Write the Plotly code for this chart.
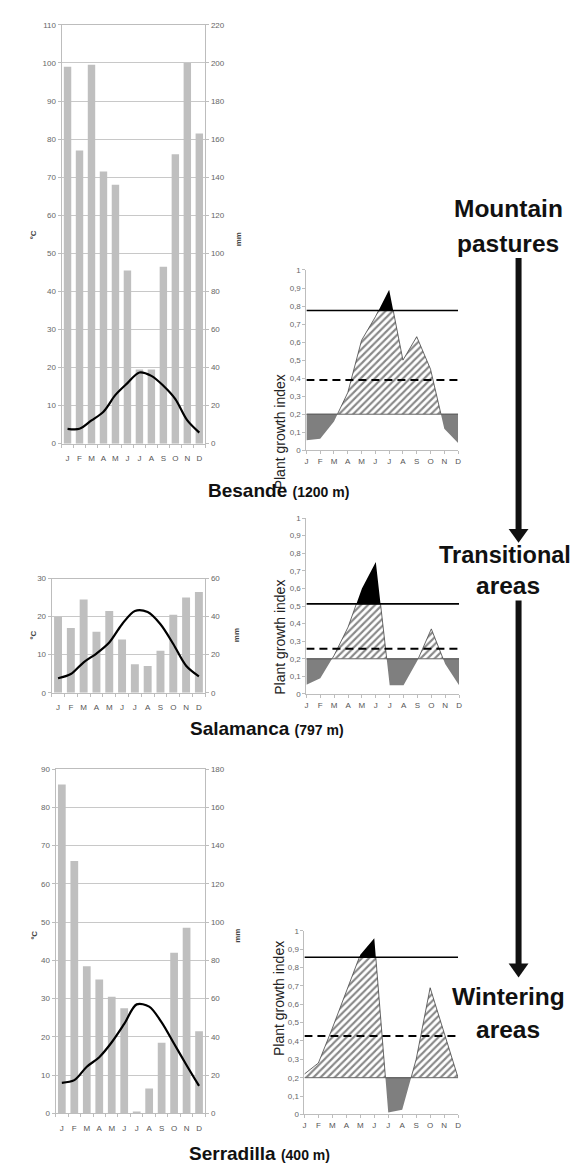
import plotly.graph_objects as go

W, H = 578, 1164
FONT = "Liberation Sans, Arial, sans-serif"

months = ["J", "F", "M", "A", "M", "J", "J", "A", "S", "O", "N", "D"]

# Climate data (temperature in °C, precipitation in mm)
besande_temp = [3.9, 3.9, 6.1, 8.4, 12.8, 15.9, 18.7, 17.8, 15.2, 11.7, 6.1, 2.9]
besande_prec = [198, 154, 199, 143, 136, 91, 39, 39, 93, 152, 200, 163]
salamanca_temp = [3.8, 4.9, 8.0, 10.3, 13.2, 18.0, 21.5, 21.2, 18.0, 12.8, 7.1, 4.3]
salamanca_prec = [40, 34, 49, 32, 43, 28, 15, 14, 22, 41, 50, 53]
serradilla_temp = [8.0, 8.7, 12.2, 14.7, 18.6, 23.4, 28.5, 27.9, 23.8, 18.2, 12.6, 7.2]
serradilla_prec = [172, 132, 77, 70, 61, 55, 1, 13, 37, 84, 97, 43]

# Plant growth index
besande_pgi = [0.055, 0.064, 0.16, 0.32, 0.61, 0.74, 0.89, 0.50, 0.63, 0.45, 0.12, 0.04]
salamanca_pgi = [0.053, 0.09, 0.22, 0.38, 0.60, 0.75, 0.05, 0.05, 0.19, 0.37, 0.17, 0.05]
serradilla_pgi = [0.22, 0.28, 0.47, 0.67, 0.87, 0.96, 0.01, 0.025, 0.30, 0.69, 0.445, 0.20]

# thresholds: (base, dashed, solid)
besande_thr = (0.2, 0.39, 0.775)
salamanca_thr = (0.2, 0.257, 0.512)
serradilla_thr = (0.2, 0.427, 0.856)

pgi_ticks = [0, 0.1, 0.2, 0.3, 0.4, 0.5, 0.6, 0.7, 0.8, 0.9, 1]
pgi_ticktext = ["0", "0,1", "0,2", "0,3", "0,4", "0,5", "0,6", "0,7", "0,8", "0,9", "1"]


def xd(a, b):
    return [a / W, b / W]


def yd(top, bottom):
    return [1 - bottom / H, 1 - top / H]


fig = go.Figure()
layout = {}
annotations = []
shapes = []

GRAY_AX = "#bdbdbd"
TICKFONT = dict(family=FONT, size=8, color="#666666")

# ---------- Climate charts ----------
climate = [
    (besande_temp, besande_prec, 110, (52, 197), (13, 435), (17, 218), (230, 220)),
    (salamanca_temp, salamanca_prec, 30, (42, 197), (571, 686), (17, 628), (228, 628)),
    (serradilla_temp, serradilla_prec, 90, (46, 197), (763, 1110), (18, 937), (230, 940)),
]
xs = list(range(12))
for k, (temp, prec, tmax, xdom, ydom, clab, mlab) in enumerate(climate, start=1):
    xa = "x" if k == 1 else f"x{k}"
    yb_n = 2 * k - 1
    yo_n = 2 * k
    yb = "y" if yb_n == 1 else f"y{yb_n}"
    yo = f"y{yo_n}"
    fig.add_trace(go.Bar(x=xs, y=prec, width=0.62, marker=dict(color="#bfbfbf", line=dict(width=0)),
                         xaxis=xa, yaxis=yb, showlegend=False, hoverinfo="skip"))
    fig.add_trace(go.Scatter(x=xs, y=temp, mode="lines",
                             line=dict(color="black", width=2.2, shape="spline", smoothing=0.9),
                             xaxis=xa, yaxis=yo, showlegend=False, hoverinfo="skip"))
    xkey = "xaxis" if k == 1 else f"xaxis{k}"
    ybkey = "yaxis" if yb_n == 1 else f"yaxis{yb_n}"
    yokey = f"yaxis{yo_n}"
    layout[xkey] = dict(domain=xd(*xdom), range=[-0.5, 11.5], tickmode="array", tickvals=xs,
                        ticktext=months, showline=True, linecolor=GRAY_AX, mirror=True,
                        ticks="outside", ticklen=7, tickcolor="rgba(0,0,0,0)",
                        minor=dict(tickmode="linear", tick0=-0.5, dtick=1, ticks="outside",
                                   ticklen=3, tickcolor=GRAY_AX),
                        showgrid=False, zeroline=False, anchor=yb,
                        tickfont=dict(family=FONT, size=8, color="#555555"))
    layout[ybkey] = dict(domain=yd(*ydom), range=[0, 2 * tmax], dtick=20, side="right",
                         showgrid=True, gridcolor="#c8c8c8", gridwidth=1, showline=True,
                         linecolor=GRAY_AX, ticks="outside", ticklen=3, tickcolor=GRAY_AX,
                         zeroline=False, anchor=xa, tickfont=TICKFONT)
    layout[yokey] = dict(domain=yd(*ydom), range=[0, tmax], dtick=10, side="left",
                         overlaying=yb, showgrid=False, showline=True, linecolor=GRAY_AX,
                         ticks="outside", ticklen=3, tickcolor=GRAY_AX, zeroline=False,
                         anchor=xa, tickfont=TICKFONT)
    annotations.append(dict(text="<b>ºC</b>", x=clab[0] / W, y=1 - clab[1] / H, xref="paper",
                            yref="paper", showarrow=False, textangle=-90,
                            font=dict(family=FONT, size=8, color="#444444")))
    annotations.append(dict(text="<b>mm</b>", x=mlab[0] / W, y=1 - mlab[1] / H, xref="paper",
                            yref="paper", showarrow=False, textangle=-90,
                            font=dict(family=FONT, size=8, color="#444444")))


# ---------- Growth charts ----------
def densify(xv, yv, levels):
    X, Y = [xv[0]], [yv[0]]
    for i in range(len(xv) - 1):
        x0, y0, x1, y1 = xv[i], yv[i], xv[i + 1], yv[i + 1]
        cr = []
        for L in levels:
            if (y0 - L) * (y1 - L) < 0:
                t = (L - y0) / (y1 - y0)
                cr.append((x0 + t * (x1 - x0), L))
        cr.sort()
        for c in cr:
            X.append(c[0])
            Y.append(c[1])
        X.append(x1)
        Y.append(y1)
    return X, Y


growth = [
    (besande_pgi, besande_thr, (299, 452), (260, 441.7), 363),
    (salamanca_pgi, salamanca_thr, (299, 453), (510, 687.3), 630),
    (serradilla_pgi, serradilla_thr, (297, 452), (926, 1111), 1054),
]
for j, (pgi, thr, xdom, ydom, ty) in enumerate(growth, start=1):
    xn = 3 + j
    yn = 6 + j
    xa, ya = f"x{xn}", f"y{yn}"
    base, dashed, solid = thr
    X, Y = densify(xs, pgi, [base, solid])
    low = [min(v, base) for v in Y]
    mid = [min(max(v, base), solid) for v in Y]
    high = [max(v, solid) for v in Y]
    common = dict(xaxis=xa, yaxis=ya, showlegend=False, hoverinfo="skip", mode="lines")
    # gray (below base)
    fig.add_trace(go.Scatter(x=X, y=[base] * len(X), line=dict(width=0), **common))
    fig.add_trace(go.Scatter(x=X, y=low, line=dict(width=0), fill="tonexty",
                             fillcolor="#7f7f7f", **common))
    # hatched (between base and solid)
    fig.add_trace(go.Scatter(x=X, y=[base] * len(X), line=dict(width=0), **common))
    fig.add_trace(go.Scatter(x=X, y=mid, line=dict(width=0.8, color="#444444"), fill="tonexty",
                             fillcolor="white",
                             fillpattern=dict(shape="/", fgcolor="#111111", bgcolor="white",
                                              size=5, solidity=0.42), **common))
    # black (above solid)
    fig.add_trace(go.Scatter(x=X, y=[solid] * len(X), line=dict(width=0), **common))
    fig.add_trace(go.Scatter(x=X, y=high, line=dict(width=0), fill="tonexty",
                             fillcolor="black", **common))
    # reference lines
    fig.add_trace(go.Scatter(x=[0, 11], y=[base, base], line=dict(width=1, color="#666666"), **common))
    fig.add_trace(go.Scatter(x=[0, 11], y=[dashed, dashed],
                             line=dict(width=2, color="black", dash="8px,5px"), **common))
    fig.add_trace(go.Scatter(x=[0, 11], y=[solid, solid], line=dict(width=1.6, color="black"), **common))

    layout[f"xaxis{xn}"] = dict(domain=xd(*xdom), range=[0, 11], tickmode="array", tickvals=xs,
                                ticktext=months, showline=True, linecolor=GRAY_AX, ticks="outside",
                                ticklen=3, tickcolor=GRAY_AX, showgrid=False, zeroline=False,
                                anchor=ya, tickfont=dict(family=FONT, size=8, color="#555555"))
    layout[f"yaxis{yn}"] = dict(domain=yd(*ydom), range=[0, 1], tickmode="array",
                                tickvals=pgi_ticks, ticktext=pgi_ticktext, showline=True,
                                linecolor=GRAY_AX, ticks="outside", ticklen=3, tickcolor=GRAY_AX,
                                showgrid=False, zeroline=False, anchor=xa, tickfont=TICKFONT)
    annotations.append(dict(text="Plant growth index", x=272 / W, y=1 - ty / H, xref="paper",
                            yref="paper", showarrow=False, textangle=-90,
                            font=dict(family=FONT, size=14, color="#222222")))

# ---------- Site labels ----------
site_labels = [
    ("Besande", "(1200 m)", 198, 482),
    ("Salamanca", "(797 m)", 180, 722),
    ("Serradilla", "(400 m)", 179, 1150),
]
for name, alt, lx, ly in site_labels:
    annotations.append(dict(text=f"<b>{name}</b> <b><span style='font-size:14px'>{alt}</span></b>",
                            x=lx / W, y=1 - ly / H, xref="paper", yref="paper", showarrow=False,
                            xanchor="left", yanchor="middle",
                            font=dict(family=FONT, size=19, color="#111111")))

# ---------- Right-hand zone labels ----------
zone_lines = [
    ("Mountain", 502.5, 198, 24.5), ("pastures", 502.5, 233, 24.5),
    ("Transitional", 499, 547, 23.5), ("areas", 502.5, 578, 24.5),
    ("Wintering", 503, 992, 24.5), ("areas", 502.5, 1025, 24.5),
]
for txt, zx, zy, fs in zone_lines:
    annotations.append(dict(text=f"<b>{txt}</b>", x=zx / W, y=1 - zy / H, xref="paper",
                            yref="paper", showarrow=False, xanchor="center", yanchor="middle",
                            font=dict(family=FONT, size=fs, color="#111111")))

# arrows
for y0, y1 in [(248, 535), (593, 973)]:
    shapes.append(dict(type="line", xref="paper", yref="paper", x0=513 / W, x1=513 / W,
                       y0=1 - y0 / H, y1=1 - (y1 - 10) / H, line=dict(color="#111111", width=6)))
    shapes.append(dict(type="path", xref="paper", yref="paper",
                       path=f"M {503 / W} {1 - (y1 - 14) / H} L {523 / W} {1 - (y1 - 14) / H} "
                            f"L {513 / W} {1 - y1 / H} Z",
                       fillcolor="#111111", line=dict(width=0)))

fig.update_layout(width=W, height=H, margin=dict(l=0, r=0, t=0, b=0),
                  paper_bgcolor="white", plot_bgcolor="rgba(0,0,0,0)",
                  annotations=annotations, shapes=shapes, bargap=0.38,
                  font=dict(family=FONT), **layout)

fig.write_html("out.html")
